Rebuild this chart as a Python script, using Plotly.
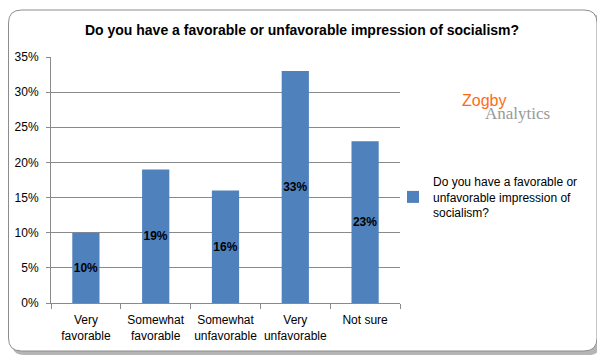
import plotly.graph_objects as go

categories = ["Very<br>favorable", "Somewhat<br>favorable", "Somewhat<br>unfavorable", "Very<br>unfavorable", "Not sure"]
values = [0.10, 0.19, 0.16, 0.33, 0.23]
labels = ["10%", "19%", "16%", "33%", "23%"]
series_name = "Do you have a favorable or<br>unfavorable impression of<br>socialism?"
title_text = "Do you have a favorable or unfavorable impression of socialism?"

W, H = 605, 362
OFF = 8  # page body margin offset
# plot area in screen pixels
SX0, SX1, SY0, SY1 = 51, 400, 57, 303
pw, ph = SX1 - SX0, SY1 - SY0
L, T = SX0 - OFF, SY0 - OFF
R, B = W - L - pw, H - T - ph

def px(x):
    return (x - SX0) / pw

def py(y):
    return (SY1 - y) / ph

def rounded(x0, y0, x1, y1, r):
    pts = [
        f"M {px(x0 + r)},{py(y0)}",
        f"L {px(x1 - r)},{py(y0)}",
        f"Q {px(x1)},{py(y0)} {px(x1)},{py(y0 + r)}",
        f"L {px(x1)},{py(y1 - r)}",
        f"Q {px(x1)},{py(y1)} {px(x1 - r)},{py(y1)}",
        f"L {px(x0 + r)},{py(y1)}",
        f"Q {px(x0)},{py(y1)} {px(x0)},{py(y1 - r)}",
        f"L {px(x0)},{py(y0 + r)}",
        f"Q {px(x0)},{py(y0)} {px(x0 + r)},{py(y0)}",
        "Z",
    ]
    return " ".join(pts)

font = "Liberation Sans, Arial, sans-serif"

fig = go.Figure()
fig.add_trace(go.Bar(
    x=categories, y=values, name=series_name,
    marker=dict(color="#4F81BD", line=dict(width=0)),
    text=labels, textposition="inside", insidetextanchor="middle", textangle=0,
    constraintext="none",
    textfont=dict(family=font, size=12, color="black", weight="bold"),
    showlegend=True,
))

shapes = [
    dict(type="path", xref="paper", yref="paper", path=rounded(11.5, 13, 601, 355, 13),
         fillcolor="rgba(120,120,120,0.55)", line=dict(width=0), layer="below"),
    dict(type="path", xref="paper", yref="paper", path=rounded(8.5, 10, 597, 351, 13),
         fillcolor="white", line=dict(color="#8c8c8c", width=1), layer="below"),
]

fig.update_layout(
    width=W, height=H,
    margin=dict(l=L, r=R, t=T, b=B, autoexpand=False),
    paper_bgcolor="white", plot_bgcolor="rgba(0,0,0,0)",
    font=dict(family=font, size=12, color="black"),
    title=dict(text="<b>" + title_text + "</b>", x=(302 - OFF) / W, xanchor="center", xref="container",
               y=1 - (30 - OFF) / H, yanchor="middle", font=dict(size=14, color="black")),
    bargap=0.61,
    shapes=shapes,
    showlegend=True,
    legend=dict(x=px(393), y=py(167), xanchor="left", yanchor="top",
                font=dict(size=12), bgcolor="rgba(0,0,0,0)", itemwidth=30),
    annotations=[
        dict(text="Zogby", x=px(460), y=py(100), xref="paper", yref="paper",
             xanchor="left", yanchor="middle", showarrow=False,
             font=dict(family="Liberation Sans, Arial", size=16, color="#FF6A13")),
        dict(text="Analytics", x=px(483), y=py(113), xref="paper", yref="paper",
             xanchor="left", yanchor="middle", showarrow=False,
             font=dict(family="Liberation Serif, Times New Roman, serif", size=17, color="#999999")),
    ],
)
fig.update_yaxes(range=[0, 0.35], dtick=0.05, tickformat=".0%", automargin=False,
                 showgrid=True, gridcolor="#8a8a8a", gridwidth=1,
                 showline=True, linecolor="#8a8a8a", ticks="outside", ticklen=4,
                 tickcolor="#8a8a8a", zeroline=False, ticklabelstandoff=5)
fig.update_xaxes(showline=True, linecolor="#8a8a8a", ticks="outside", ticklen=5, automargin=False,
                 tickcolor="#8a8a8a", tickson="boundaries", showgrid=False, tickangle=0,
                 ticklabelstandoff=6)

fig.write_html("out.html")
